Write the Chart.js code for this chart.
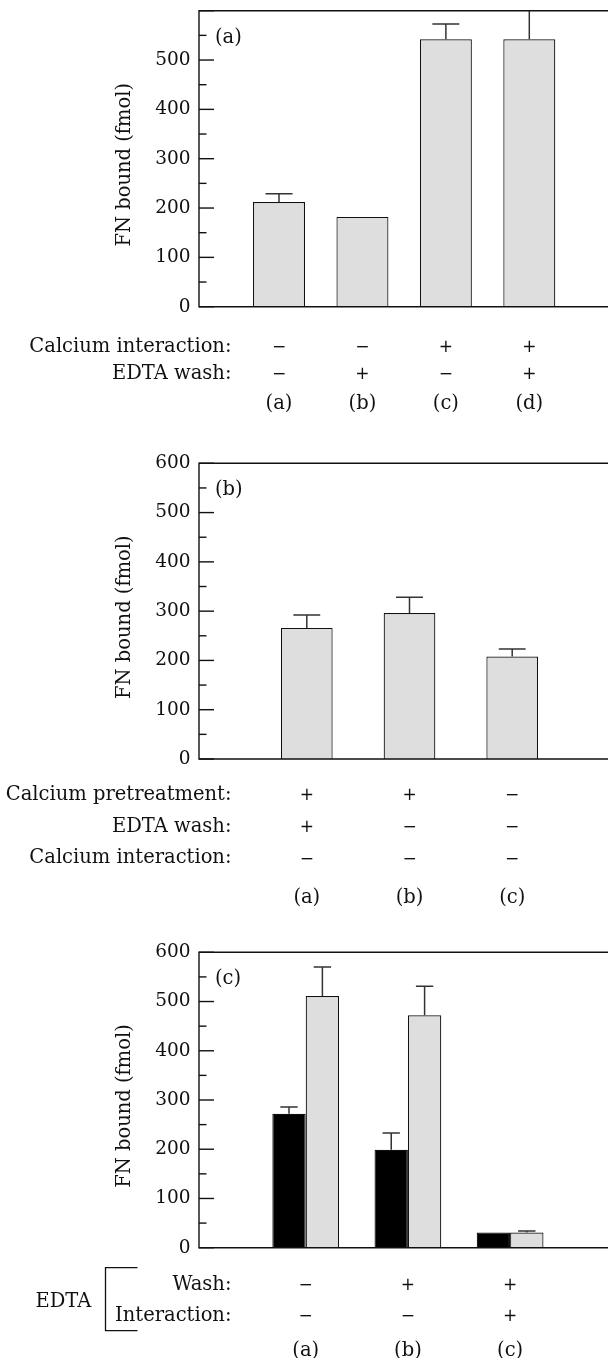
<!DOCTYPE html>
<html>
<head>
<meta charset="utf-8">
<script src="https://cdn.jsdelivr.net/npm/chart.js@4.4.0/dist/chart.umd.min.js"></script>
<style>
  html, body { margin: 0; padding: 0; background: #fff; overflow: hidden; width: 608px; height: 1358px; }
  canvas { position: absolute; left: 0; }
</style>
</head>
<body>
<canvas id="chartA" width="640" height="450" style="top:-20px"></canvas>
<canvas id="chartB" width="640" height="480" style="top:440px"></canvas>
<canvas id="chartC" width="640" height="433" style="top:925px"></canvas>
<script>
// ---- data ----
const yTicks = [0, 100, 200, 300, 400, 500, 600];

// panel (a)
const aLabels = ['(a)', '(b)', '(c)', '(d)'];
const aValues = [212, 182, 542, 542];
const aErrors = [17, 0, 31, 70];
const aCalcium = ['−', '−', '+', '+'];
const aEdtaWash = ['−', '+', '−', '+'];

// panel (b)
const bLabels = ['(a)', '(b)', '(c)'];
const bValues = [266, 296, 208];
const bErrors = [26, 32, 15];
const bPretreat = ['+', '+', '−'];
const bEdtaWash = ['+', '−', '−'];
const bCalcium = ['−', '−', '−'];

// panel (c)
const cLabels = ['(a)', '(b)', '(c)'];
const cBlack = [272, 199, 31];
const cBlackErr = [14, 34, 0];
const cGrey = [511, 472, 31];
const cGreyErr = [59, 59, 3];
const cWash = ['−', '+', '+'];
const cInteraction = ['−', '−', '+'];

const FONT = '19.5px "DejaVu Serif"';
const SIGN_FONT = '17px "DejaVu Sans"';
const GREY = '#dedede';

const toPoints = (vals) => vals.map((v, i) => ({ x: i + 1, y: v }));

const panelPlugin = (spec) => ({
  id: 'panel',
  afterDatasetsDraw(chart) {
    const { ctx, chartArea: area, scales: { x, y } } = chart;
    ctx.save();
    // error bars (upwards only)
    ctx.beginPath();
    ctx.rect(area.left, area.top, area.right - area.left, area.bottom - area.top);
    ctx.clip();
    ctx.strokeStyle = '#333';
    ctx.lineWidth = 1.5;
    chart.data.datasets.forEach((ds, di) => {
      chart.getDatasetMeta(di).data.forEach((bar, i) => {
        const err = ds.errors[i];
        if (!err) return;
        const top = y.getPixelForValue(ds.data[i].y + err);
        const half = bar.width * 0.26;
        ctx.beginPath();
        ctx.moveTo(bar.x, bar.y);
        ctx.lineTo(bar.x, top);
        ctx.moveTo(bar.x - half, top);
        ctx.lineTo(bar.x + half, top);
        ctx.stroke();
      });
    });
    ctx.restore();

    ctx.save();
    // frame
    ctx.strokeStyle = '#111';
    ctx.lineWidth = 1.4;
    ctx.beginPath();
    ctx.moveTo(area.right, area.top);
    ctx.lineTo(area.left, area.top);
    ctx.lineTo(area.left, area.bottom);
    ctx.lineTo(area.right, area.bottom);
    ctx.stroke();
    // inward ticks, major every 100, minor every 50
    for (let v = 0; v <= 600; v += 50) {
      const py = y.getPixelForValue(v);
      const len = v % 100 === 0 ? 15 : 7.5;
      ctx.beginPath();
      ctx.moveTo(area.left, py);
      ctx.lineTo(area.left + len, py);
      ctx.stroke();
    }

    ctx.fillStyle = '#111';
    ctx.font = FONT;
    ctx.textBaseline = 'middle';
    // panel tag
    ctx.textAlign = 'left';
    ctx.fillText(spec.tag, area.left + 16, area.top + 27);
    // y title
    ctx.save();
    ctx.translate(125, (area.top + area.bottom) / 2 + 6);
    ctx.rotate(-Math.PI / 2);
    ctx.textAlign = 'center';
    ctx.fillText('FN bound (fmol)', 0, 0);
    ctx.restore();
    // condition rows
    spec.rows.forEach((row) => {
      ctx.font = FONT;
      ctx.textAlign = 'right';
      ctx.fillText(row.label, 231.5, area.bottom + row.dy);
      ctx.font = SIGN_FONT;
      ctx.textAlign = 'center';
      row.marks.forEach((m, i) => {
        ctx.fillText(m, x.getPixelForValue(i + 1), area.bottom + row.dy + 1);
      });
    });
    ctx.font = FONT;
    ctx.textAlign = 'center';
    spec.labels.forEach((l, i) => {
      ctx.fillText(l, x.getPixelForValue(i + 1), area.bottom + spec.labelDy);
    });
    if (spec.bracket) {
      const b = spec.bracket;
      ctx.textAlign = 'left';
      ctx.fillText('EDTA', 35.5, area.bottom + b.textDy);
      ctx.lineWidth = 1.3;
      ctx.beginPath();
      ctx.moveTo(137.5, area.bottom + b.top);
      ctx.lineTo(105.5, area.bottom + b.top);
      ctx.lineTo(105.5, area.bottom + b.bottom);
      ctx.lineTo(137.5, area.bottom + b.bottom);
      ctx.stroke();
    }
    ctx.restore();
  }
});

const makeChart = (id, spec) => new Chart(document.getElementById(id), {
  type: 'bar',
  data: { datasets: spec.datasets },
  options: {
    responsive: false,
    animation: false,
    layout: { padding: spec.padding },
    plugins: { legend: { display: false }, tooltip: { enabled: false } },
    scales: {
      x: {
        type: 'linear', display: false, offset: false,
        min: spec.xMin, max: spec.xMax,
        // one tick per group so the bar ruler uses the group spacing
        afterBuildTicks: (s) => { s.ticks = spec.labels.map((l, i) => ({ value: i + 1 })); }
      },
      y: {
        min: 0, max: 600,
        afterFit: (s) => { s.width = 199; },
        afterBuildTicks: (s) => { s.ticks = yTicks.map((v) => ({ value: v })); },
        grid: { display: false, drawTicks: false, tickLength: 0 },
        border: { display: false },
        ticks: {
          padding: 8.5,
          color: '#111',
          font: { family: 'DejaVu Serif', size: 18.5 },
          callback: (v) => (spec.hideTop && v === 600 ? '' : String(v))
        }
      }
    }
  },
  plugins: [panelPlugin(spec)]
});

const barStyle = (color) => ({
  backgroundColor: color,
  borderColor: '#111',
  borderWidth: 1.2,
  borderSkipped: 'start'
});

makeChart('chartA', {
  tag: '(a)',
  hideTop: true,
  padding: { left: 0, right: 10, top: 30.7, bottom: 123.3 },
  xMin: 0.041, xMax: 5.207,
  datasets: [{
    data: toPoints(aValues), errors: aErrors,
    categoryPercentage: 1, barPercentage: 0.623, ...barStyle(GREY)
  }],
  rows: [
    { label: 'Calcium interaction:', dy: 40, marks: aCalcium },
    { label: 'EDTA wash:', dy: 67, marks: aEdtaWash }
  ],
  labels: aLabels, labelDy: 97
});

makeChart('chartB', {
  tag: '(b)',
  padding: { left: 0, right: 10, top: 23.3, bottom: 161 },
  xMin: -0.0497, xMax: 4.147,
  datasets: [{
    data: toPoints(bValues), errors: bErrors,
    categoryPercentage: 1, barPercentage: 0.503, ...barStyle(GREY)
  }],
  rows: [
    { label: 'Calcium pretreatment:', dy: 35.8, marks: bPretreat },
    { label: 'EDTA wash:', dy: 67.5, marks: bEdtaWash },
    { label: 'Calcium interaction:', dy: 99.2, marks: bCalcium }
  ],
  labels: bLabels, labelDy: 139.2
});

makeChart('chartC', {
  tag: '(c)',
  padding: { left: 0, right: 10, top: 27.3, bottom: 110.3 },
  xMin: -0.044, xMax: 4.173,
  datasets: [
    { data: toPoints(cBlack), errors: cBlackErr,
      categoryPercentage: 0.653, barPercentage: 1, ...barStyle('#000') },
    { data: toPoints(cGrey), errors: cGreyErr,
      categoryPercentage: 0.653, barPercentage: 1, ...barStyle(GREY) }
  ],
  rows: [
    { label: 'Wash:', dy: 37, marks: cWash },
    { label: 'Interaction:', dy: 67.8, marks: cInteraction }
  ],
  labels: cLabels, labelDy: 103,
  bracket: { textDy: 54.5, top: 20, bottom: 83 }
});
</script>
</body>
</html>
